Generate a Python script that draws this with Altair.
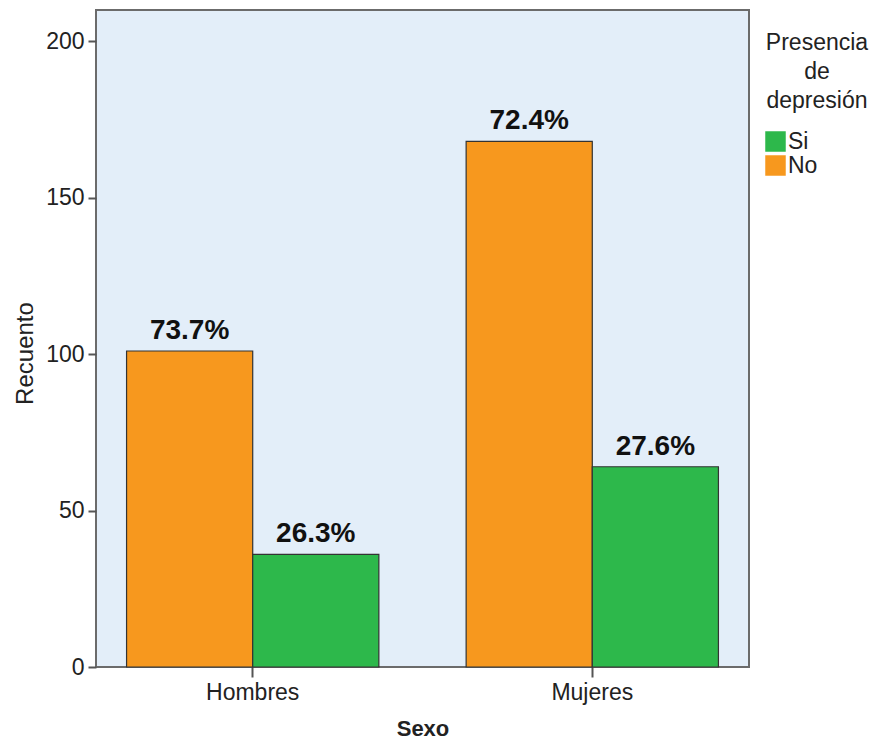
import altair as alt
import pandas as pd

sexo = ["Hombres", "Hombres", "Mujeres", "Mujeres"]
depresion = ["No", "Si", "No", "Si"]
recuento = [101, 36, 168, 64]

df = pd.DataFrame({"Sexo": sexo, "Depresion": depresion, "Recuento": recuento})

FONT = "Liberation Sans"
ORANGE = "#F7981E"
GREEN = "#2DB84B"

x_enc = alt.X("Sexo:N", title="Sexo",
              scale=alt.Scale(paddingInner=0.257, paddingOuter=0.09),
              axis=alt.Axis(labelAngle=0, domain=False, tickSize=10, tickColor="#555555",
                            tickWidth=2, labelPadding=4, titlePadding=14,
                            labelFontSize=23, titleFontSize=22, titleFontWeight="bold",
                            labelColor="#222222", titleColor="#222222"))
xoff = alt.XOffset("Depresion:N", sort=["No", "Si"], scale=alt.Scale(paddingInner=0, paddingOuter=0))

base = alt.Chart(df).transform_joinaggregate(
    total="sum(Recuento)", groupby=["Sexo"]
).transform_calculate(
    pct="datum.Recuento / datum.total"
)

bars = base.mark_bar(stroke="#333333", strokeWidth=1.2).encode(
    x=x_enc,
    xOffset=xoff,
    y=alt.Y("Recuento:Q", title="Recuento",
            scale=alt.Scale(domain=[0, 210], nice=False),
            axis=alt.Axis(values=[0, 50, 100, 150, 200], grid=False, domain=False,
                          tickSize=8, tickColor="#555555", tickWidth=2, labelPadding=4,
                          titlePadding=8, titleY=343,
                          labelFontSize=23, titleFontSize=24, titleFontWeight="normal",
                          labelColor="#222222", titleColor="#222222")),
    color=alt.Color("Depresion:N", sort=["Si", "No"],
                    scale=alt.Scale(domain=["Si", "No"], range=[GREEN, ORANGE]),
                    legend=alt.Legend(title=["Presencia", "de", "depresión"],
                                      orient="none", legendX=668, legendY=22,
                                      titleAlign="center", titleAnchor="end",
                                      titleFontSize=23, titleFontWeight="normal",
                                      titleLineHeight=29, titlePadding=17,
                                      titleColor="#222222",
                                      labelFontSize=23, labelColor="#222222",
                                      labelOffset=1, symbolType="square",
                                      symbolSize=420, symbolStrokeWidth=0,
                                      rowPadding=0, padding=0)),
)

labels = base.mark_text(baseline="bottom", dy=-6, fontSize=28, fontWeight="bold",
                        font=FONT, color="#111111").encode(
    x=alt.X("Sexo:N"),
    xOffset=xoff,
    y=alt.Y("Recuento:Q"),
    text=alt.Text("pct:Q", format=".1%"),
)

chart = (bars + labels).properties(
    width=653, height=657,
    padding={"left": 5, "top": 2, "right": 0, "bottom": 5},
).configure(
    font=FONT
).configure_view(
    fill="#E3EEF9", stroke="#6B6B6B", strokeWidth=2
)

chart.save("out.html", embed_options={"renderer": "svg", "actions": False})
